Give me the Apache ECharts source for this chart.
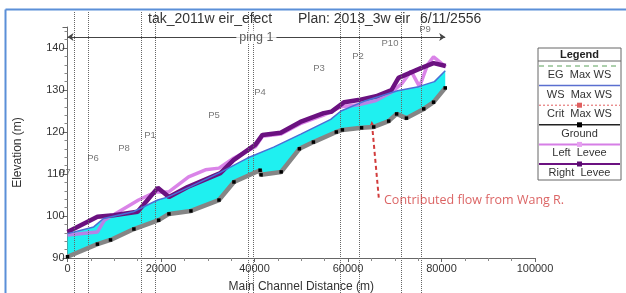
<!DOCTYPE html>
<html><head><meta charset="utf-8">
<script src="https://cdn.jsdelivr.net/npm/echarts@6/dist/echarts.min.js"></script>
<style>html,body{margin:0;padding:0;background:#fff}#c{width:626px;height:293px}</style>
</head><body><div id="c"></div>
<script>
// ---- data ----
const groundX = [0, 6400, 9200, 14200, 19500, 21700, 26400, 32400, 35600, 41200, 41400, 45700, 49600, 52600, 57500, 58800, 62900, 65500, 68700, 70400, 72500, 76200, 78300, 80800];
const groundY = [90.3, 93.3, 94.3, 96.9, 99.0, 100.5, 101.2, 103.8, 108.1, 110.9, 109.8, 110.5, 116.0, 117.6, 120.0, 120.5, 121.0, 121.2, 122.6, 124.3, 123.3, 125.5, 127.1, 130.5];
const wsX = [0, 5600, 7700, 14100, 19300, 21400, 26300, 32700, 38500, 44100, 49900, 56300, 58500, 63400, 70600, 75100, 78500, 80800];
const wsY = [95.8, 97.4, 99.4, 101.0, 103.8, 104.5, 107.0, 110.4, 113.8, 116.4, 119.5, 123.0, 125.0, 127.3, 129.8, 130.8, 132.0, 134.6];
const rightX = [0, 6400, 9900, 15000, 19300, 21700, 25700, 32700, 35500, 40200, 41700, 45600, 49800, 54800, 56400, 59200, 62200, 66000, 69300, 70800, 75600, 78300, 80900];
const rightY = [96.2, 99.8, 100.2, 101.0, 106.7, 104.5, 106.9, 110.2, 113.3, 117.0, 119.3, 119.8, 122.4, 124.5, 124.8, 127.1, 127.6, 128.5, 130.0, 132.9, 135.2, 136.4, 135.7];
const leftX = [0, 6400, 7900, 15200, 18800, 21600, 25900, 29500, 32400, 35600, 40200, 41700, 45600, 49800, 54800, 58500, 62200, 66000, 69300, 71500, 73500, 75300, 77000, 78300, 80900];
const leftY = [95.5, 96.2, 99.0, 103.8, 105.7, 105.7, 109.3, 111.0, 111.4, 113.8, 116.5, 119.0, 119.5, 122.0, 124.0, 126.0, 126.5, 127.5, 129.5, 131.5, 134.5, 130.8, 136.0, 137.9, 135.5];
const stationX = [1390, 4380, 15720, 18720, 38610, 39680, 58290, 62350, 71340, 75620];
const pNames = ['P7', 'P6', 'P8', 'P1', 'P5', 'P4', 'P3', 'P2', 'P10', 'P9'];
const pX = [-530, 5450, 12090, 17650, 31340, 41180, 53800, 62140, 68980, 76470];
const pY = [110.5, 113.8, 116.0, 119.3, 124.0, 129.5, 135.2, 137.9, 141.2, 144.5];
const reachName = 'ping 1';
const reachStart = [0, 142.6], reachEnd = [80800, 142.6];
const noteText = 'Contributed flow from Wang R.';
const noteFrom = [65130, 121.9], noteTo = [66630, 103.8];
const legendNames = ['EG  Max WS', 'WS  Max WS', 'Crit  Max WS', 'Ground', 'Left  Levee', 'Right  Levee'];
const titleParts = ['tak_2011w eir_efect', 'Plan: 2013_3w eir', '6/11/2556'];

const zip = (xs, ys) => xs.map((x, i) => [x, ys[i]]);
const ground = zip(groundX, groundY), ws = zip(wsX, wsY), right = zip(rightX, rightY), left = zip(leftX, leftY);
const FF = 'Liberation Sans';

const chart = echarts.init(document.getElementById('c'));

// legend drawn as graphic
const LX = 538, LY = 48, LW = 83, LH = 132;
const lg = [
  {type:'rect', shape:{x:LX, y:LY, width:LW, height:LH}, style:{fill:'#fff', stroke:'#666', lineWidth:1}},
  {type:'text', x:LX + LW/2, y:LY + 7, style:{text:'Legend', font:'bold 11px ' + FF, fill:'#222', align:'center', verticalAlign:'middle'}},
  {type:'line', shape:{x1:LX, y1:LY + 13, x2:LX + LW, y2:LY + 13}, style:{stroke:'#666', lineWidth:1}}
];
const lgStyles = [
  {stroke:'#5aa05a', dash:[5,4], w:1, mk:null},
  {stroke:'#5a6fd0', dash:null, w:1.5, mk:null},
  {stroke:'#e06060', dash:[2,2], w:1, mk:'#e06060'},
  {stroke:'#222', dash:null, w:1.5, mk:'#000'},
  {stroke:'#d67ee6', dash:null, w:2, mk:'#e6a0f0'},
  {stroke:'#6b1180', dash:null, w:2, mk:'#5a0a70'}
];
legendNames.forEach((n, i) => {
  const y0 = LY + 18 + i * 19.6;
  const s = lgStyles[i];
  lg.push({type:'line', shape:{x1:LX + 1, y1:y0, x2:LX + LW - 1, y2:y0}, style:{stroke:s.stroke, lineWidth:s.w, lineDash:s.dash}});
  if (s.mk) lg.push({type:'rect', shape:{x:LX + LW/2 - 2.5, y:y0 - 2.5, width:5, height:5}, style:{fill:s.mk}});
  lg.push({type:'text', x:LX + LW/2, y:y0 + 9, style:{text:n, font:'11px ' + FF, fill:'#333', align:'center', verticalAlign:'middle'}});
});

const titleStyle = {fontFamily:FF, fontSize:14, fontWeight:'normal', color:'#333'};
const option = {
  animation: false,
  backgroundColor: '#fff',
  title: [
    {text:titleParts[0], left:148, top:12, padding:0, textStyle:titleStyle},
    {text:titleParts[1], left:298, top:12, padding:0, textStyle:titleStyle},
    {text:titleParts[2], left:420, top:12, padding:0, textStyle:titleStyle}
  ],
  grid: [
    {left:67.5, right:91, top:27, bottom:35, outerBoundsMode:'none', containLabel:false},
    {left:67.5, right:91, top:11, bottom:0, outerBoundsMode:'none', containLabel:false}
  ],
  xAxis: [
    {gridIndex:0, type:'value', min:0, max:100000, interval:20000,
     name:'Main Channel Distance (m)', nameLocation:'middle', nameGap:23,
     nameTextStyle:{fontFamily:FF, fontSize:12, color:'#333'},
     axisLine:{lineStyle:{color:'#666'}}, axisTick:{length:4, lineStyle:{color:'#666'}},
     minorTick:{show:true, splitNumber:4, length:3, lineStyle:{color:'#888'}},
     splitLine:{show:false}, axisLabel:{fontFamily:FF, fontSize:11, color:'#333', margin:5, formatter:v => String(v)}},
    {gridIndex:1, type:'value', min:0, max:100000, show:false}
  ],
  yAxis: [
    {gridIndex:0, type:'value', min:90, max:145, interval:10,
     name:'Elevation (m)', nameLocation:'middle', nameGap:44,
     nameTextStyle:{fontFamily:FF, fontSize:12, color:'#333', padding:[0,20,0,0]},
     axisLine:{show:true, lineStyle:{color:'#666'}}, axisTick:{length:5, lineStyle:{color:'#666'}},
     minorTick:{show:true, splitNumber:5, length:3, lineStyle:{color:'#888'}},
     splitLine:{show:false},
     axisLabel:{fontFamily:FF, fontSize:11, color:'#333', margin:3, formatter:v => (v % 10 === 0 ? v : '')}},
    {gridIndex:1, type:'value', min:0, max:1, show:false}
  ],
  graphic: [
    {type:'line', shape:{x1:5.5, y1:9.5, x2:626, y2:9.5}, style:{stroke:'#5b8fd8', lineWidth:2}, z:100},
    {type:'line', shape:{x1:5.5, y1:9.5, x2:5.5, y2:293}, style:{stroke:'#5b8fd8', lineWidth:2}, z:100},
    {type:'group', children:lg, z:100}
  ],
  series: [
    {type:'custom', xAxisIndex:0, yAxisIndex:0, silent:true, z:1, data:[[0, 90]],
     renderItem:(params, api) => {
       const top = ws.map(p => api.coord(p));
       const bot = ground.slice().reverse().map(p => api.coord(p));
       return {type:'polygon', shape:{points: top.concat(bot)}, style:{fill:'#1ff0f0'}};
     }},
    {name:'Left Levee', type:'line', data:left, z:3, symbol:'none',
     lineStyle:{color:'#d36ee4', width:3.5, opacity:0.85}},
    {name:'Right Levee', type:'line', data:right, z:4, symbol:'none',
     lineStyle:{color:'#6b1180', width:4.5}},
    {name:'WS Max WS', type:'line', data:ws, z:5, symbol:'none',
     lineStyle:{color:'#4a6fd6', width:1.5}},
    {name:'Ground', type:'line', data:ground, z:6, symbol:'rect', symbolSize:3.5, showAllSymbol:true,
     itemStyle:{color:'#000'}, lineStyle:{color:'#858585', width:4.5}},
    {name:'labels', type:'scatter', z:7, clip:false, symbolSize:0, silent:true,
     data: pNames.map((n, i) => ({name:n, value:[pX[i], pY[i]]})),
     label:{show:true, position:'inside', formatter:'{b}', fontFamily:FF, fontSize:9.5, color:'#555'},
     markLine:{silent:true, symbol:['arrow','arrow'], symbolSize:6, label:{show:false},
       lineStyle:{color:'#444', width:1, type:'solid'},
       data:[[{coord:reachStart}, {coord:reachEnd}]]}},
    {name:'reach', type:'scatter', z:8, clip:false, symbolSize:0, silent:true,
     data:[{name:reachName, value:[(reachStart[0] + reachEnd[0]) / 2, reachStart[1]]}],
     label:{show:true, position:'inside', formatter:'{b}', fontFamily:FF, fontSize:12.5, color:'#333', backgroundColor:'#fff', padding:[0,3]}},
    {name:'note', type:'scatter', z:9, clip:false, symbolSize:0, silent:true,
     data:[{name:noteText, value:noteTo}],
     label:{show:true, position:'right', distance:5, formatter:'{b}', fontFamily:'Open Sans', fontSize:12.5, color:'#d23c3c'},
     markLine:{silent:true, symbol:['triangle','none'], symbolSize:6, label:{show:false},
       lineStyle:{color:'#d23c3c', width:2, type:[4,3]},
       data:[[{coord:noteFrom}, {coord:noteTo}]]}},
    {name:'stations', type:'line', xAxisIndex:1, yAxisIndex:1, data:[], z:10,
     markLine:{silent:true, symbol:'none', label:{show:false},
       lineStyle:{color:'#666', width:1, type:'dotted'},
       data: stationX.map(x => ({xAxis:x}))}}
  ]
};
chart.setOption(option);
</script></body></html>
